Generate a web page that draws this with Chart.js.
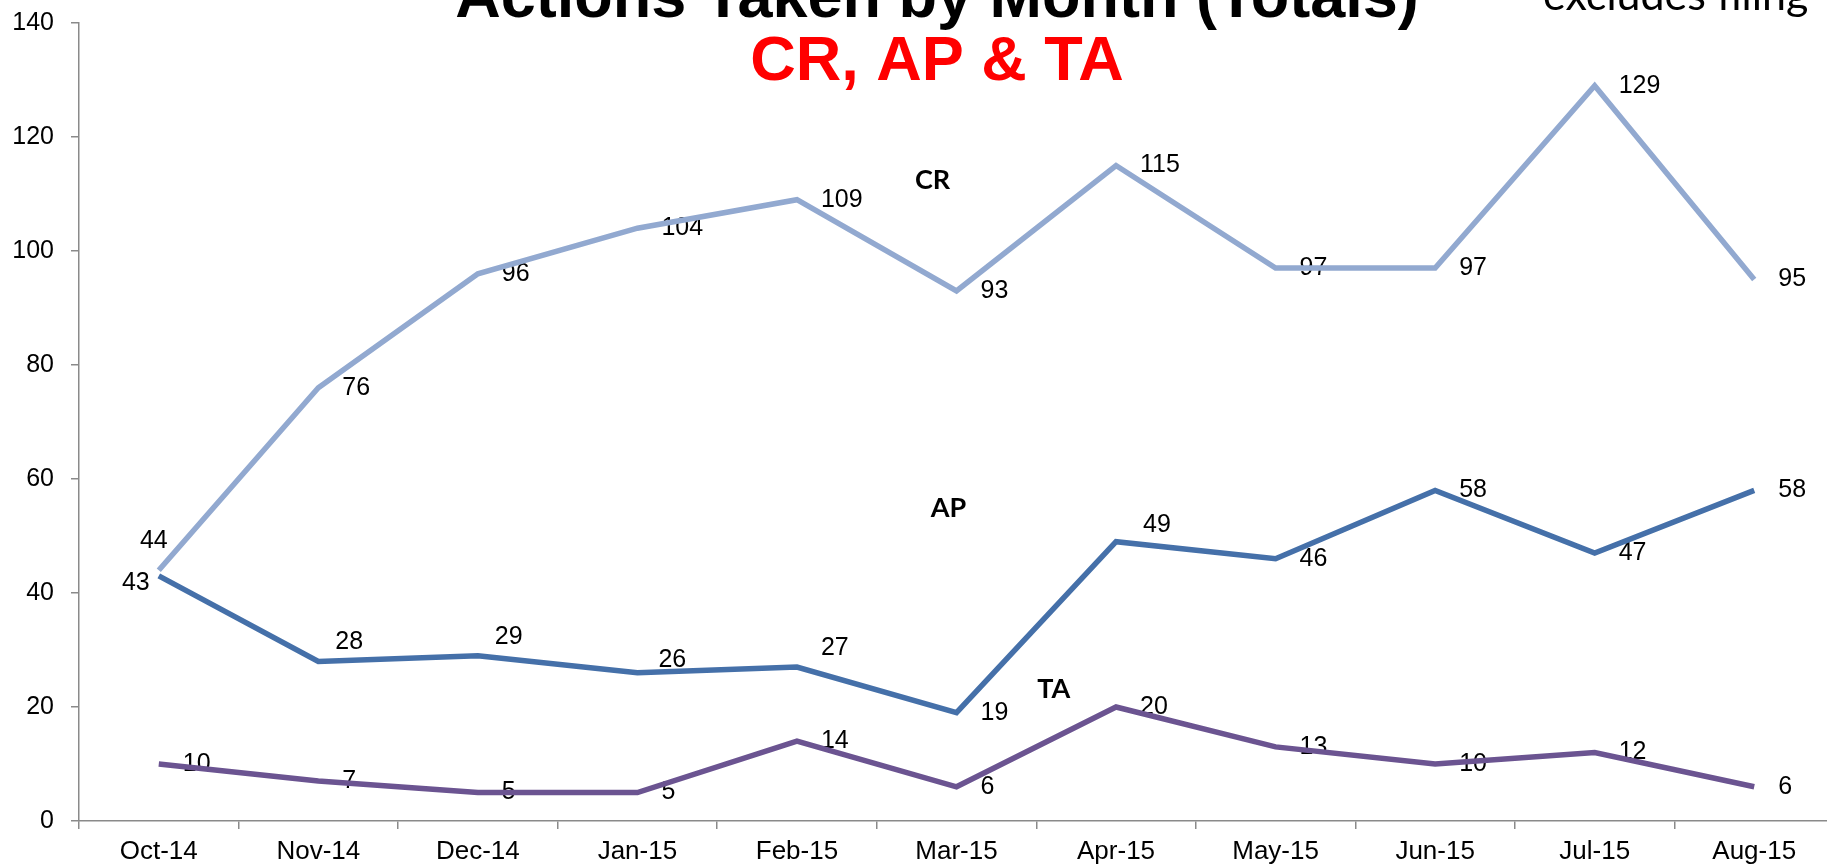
<!DOCTYPE html>
<html>
<head>
<meta charset="utf-8">
<script src="https://cdn.jsdelivr.net/npm/chart.js@4/dist/chart.umd.min.js"></script>
<style>
  html, body { margin: 0; padding: 0; background: #ffffff; overflow: hidden; }
  #wrap { width: 1850px; height: 867px; position: relative; }
  canvas { display: block; }
</style>
</head>
<body>
<div id="wrap"><canvas id="c" width="1850" height="867"></canvas></div>
<script>
// ---- data ----
const categories = ['Oct-14', 'Nov-14', 'Dec-14', 'Jan-15', 'Feb-15', 'Mar-15', 'Apr-15', 'May-15', 'Jun-15', 'Jul-15', 'Aug-15'];
const crValues = [44, 76, 96, 104, 109, 93, 115, 97, 97, 129, 95];
const apValues = [43, 28, 29, 26, 27, 19, 49, 46, 58, 47, 58];
const taValues = [10, 7, 5, 5, 14, 6, 20, 13, 10, 12, 6];
const yMin = 0, yMax = 140, yStep = 20;
const titleText = 'Actions Taken by Month (Totals)';
const subtitleText = 'CR, AP & TA';
const noteText = 'excludes filing';
const seriesNames = ['CR', 'AP', 'TA'];
// where the series name tags sit, in axis units (category index, value)
const seriesNameAt = { CR: [4.85, 112.4], AP: [4.95, 54.9], TA: [5.61, 23.05] };

// ---- label placement (style only) ----
const DEFAULT_LABEL = { dx: 24, dy: 0, align: 'left' };
const LABEL_PLACEMENT = {
  CR: { 0: { dx: 9, dy: -29, align: 'right' } },
  AP: {
    0: { dx: -9, dy: 7, align: 'right' },
    1: { dx: 17, dy: -19, align: 'left' },
    2: { dx: 17, dy: -19, align: 'left' },
    3: { dx: 21, dy: -13, align: 'left' },
    4: { dx: 24, dy: -19, align: 'left' },
    6: { dx: 27, dy: -17, align: 'left' }
  },
  TA: {}
};

const LABEL_FONT = '25px "Liberation Sans", Arial, sans-serif';

const dataLabelPlugin = {
  id: 'dataLabels',
  beforeDatasetsDraw(chart) {
    const ctx = chart.ctx;
    ctx.save();
    ctx.font = LABEL_FONT;
    ctx.fillStyle = '#000000';
    ctx.textBaseline = 'middle';
    chart.data.datasets.forEach((ds, i) => {
      const meta = chart.getDatasetMeta(i);
      meta.data.forEach((pt, j) => {
        const p = (LABEL_PLACEMENT[ds.label] || {})[j] || DEFAULT_LABEL;
        ctx.textAlign = p.align;
        ctx.fillText(String(ds.data[j]), pt.x + p.dx, pt.y + p.dy);
      });
    });
    ctx.restore();
  },
  afterDatasetsDraw(chart) {
    const ctx = chart.ctx;
    const xs = chart.scales.x, ys = chart.scales.y;
    ctx.save();
    ctx.font = 'bold 27px Lato, "Open Sans", sans-serif';
    ctx.fillStyle = '#000000';
    ctx.textAlign = 'center';
    ctx.textBaseline = 'middle';
    seriesNames.forEach(n => {
      const [ix, v] = seriesNameAt[n];
      ctx.fillText(n, xs.getPixelForValue(ix), ys.getPixelForValue(v));
    });
    ctx.restore();
  },
  afterDraw(chart) {
    const ctx = chart.ctx;
    ctx.save();
    ctx.textAlign = 'center';
    ctx.textBaseline = 'alphabetic';
    ctx.fillStyle = '#000000';
    ctx.font = 'bold 63px "Liberation Sans", Arial, sans-serif';
    ctx.fillText(titleText, 937, 17);
    ctx.fillStyle = '#FF0000';
    ctx.fillText(subtitleText, 937, 80);
    ctx.fillStyle = '#000000';
    ctx.textAlign = 'left';
    ctx.font = '43px Lato, "Open Sans", sans-serif';
    ctx.fillText(noteText, 1543, 10);
    ctx.restore();
  }
};

const lineStyle = (color) => ({
  borderColor: color,
  backgroundColor: color,
  borderWidth: 5.5,
  tension: 0,
  pointRadius: 0,
  pointHoverRadius: 0,
  borderJoinStyle: 'miter',
  fill: false
});

new Chart(document.getElementById('c'), {
  type: 'line',
  data: {
    labels: categories,
    datasets: [
      Object.assign({ label: 'CR', data: crValues }, lineStyle('#92A9D0')),
      Object.assign({ label: 'AP', data: apValues }, lineStyle('#4570A9')),
      Object.assign({ label: 'TA', data: taValues }, lineStyle('#6B5491'))
    ]
  },
  options: {
    responsive: false,
    animation: false,
    devicePixelRatio: 1,
    layout: { padding: { top: 23, right: 16, left: 0, bottom: 0 } },
    plugins: {
      legend: { display: false },
      title: { display: false },
      tooltip: { enabled: false }
    },
    scales: {
      x: {
        type: 'category',
        offset: true,
        grid: { offset: true, drawOnChartArea: false, drawTicks: true, tickLength: 8, color: '#8a8a8a', lineWidth: 1.5 },
        border: { display: true, color: '#8a8a8a', width: 1.5 },
        ticks: {
          color: '#000000',
          font: { family: '"Liberation Sans", Arial, sans-serif', size: 26 },
          padding: 7,
          maxRotation: 0,
          autoSkip: false
        },
        afterFit(scale) { scale.height = 46; scale.paddingLeft = 0; scale.paddingRight = 0; }
      },
      y: {
        min: yMin,
        max: yMax,
        grid: { drawOnChartArea: false, drawTicks: true, tickLength: 8, color: '#8a8a8a', lineWidth: 1.5 },
        border: { display: true, color: '#8a8a8a', width: 1.5 },
        ticks: {
          stepSize: yStep,
          color: '#000000',
          font: { family: '"Liberation Sans", Arial, sans-serif', size: 25 },
          padding: 17
        },
        afterFit(scale) { scale.width = 79; scale.paddingTop = 0; scale.paddingBottom = 0; }
      }
    }
  },
  plugins: [dataLabelPlugin]
});
</script>
</body>
</html>
